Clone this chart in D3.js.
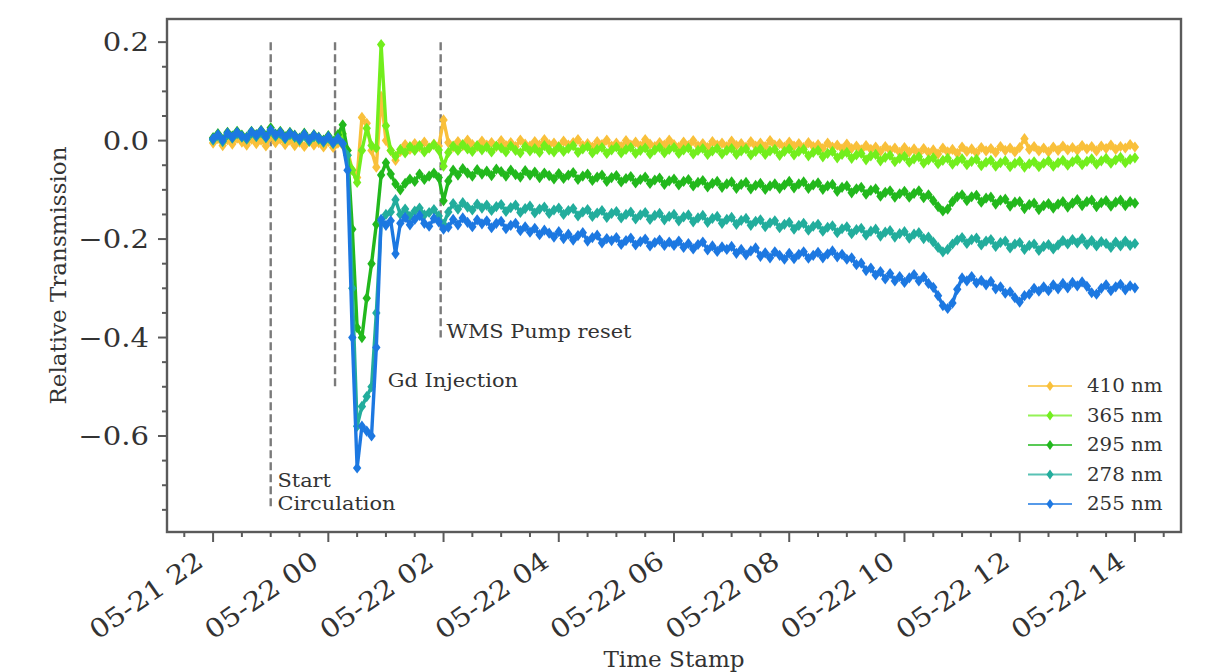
<!DOCTYPE html>
<html><head><meta charset="utf-8">
<script src="https://cdn.jsdelivr.net/npm/d3@7"></script>
<style>
body{margin:0;background:#fff}
svg{display:block}
text{font-family:"DejaVu Serif",serif;fill:#333}
</style>
</head><body>
<svg id="chart" width="1205" height="672"></svg>
<script>
// ---------- data ----------
const seriesNames = ["410 nm", "365 nm", "295 nm", "278 nm", "255 nm"];
const seriesColors = ["#f9c03a", "#72ee1e", "#22b81e", "#22ad9c", "#1e78e1"];
const startTime = new Date(2023, 4, 21, 22, 0);
const stepMinutes = 5;

const s410 = [-0.005,0.004,-0.010,0.002,-0.007,0.005,-0.003,-0.009,0.003,-0.006,0.001,-0.011,
0.008,-0.004,0.003,-0.008,0.001,-0.010,-0.003,-0.012,-0.001,-0.009,-0.004,-0.013,
-0.002,-0.014,-0.005,-0.009,
-0.020,-0.060,-0.075,0.047,0.035,-0.020,-0.054,0.090,0.000,-0.020,-0.040,-0.022,
-0.008,-0.018,-0.006,-0.013,-0.003,-0.015,-0.007,-0.011,
0.042,
-0.004,-0.013,-0.002,-0.010,0.001,-0.008,-0.012,-0.001,-0.009,-0.004,-0.012,
0.000,-0.010,-0.004,-0.012,0.001,-0.007,-0.011,-0.002,-0.009,0.002,-0.008,-0.005,
-0.012,-0.001,-0.009,-0.004,0.002,-0.010,-0.006,-0.013,-0.002,-0.008,0.001,-0.011,
-0.005,-0.012,0.000,-0.009,-0.003,-0.011,0.002,-0.007,-0.012,-0.004,-0.009,0.001,
-0.008,-0.013,-0.003,-0.010,0.000,-0.011,-0.006,-0.014,-0.002,-0.009,-0.005,-0.012,
-0.001,-0.010,-0.006,-0.013,-0.002,-0.011,-0.005,-0.012,0.000,-0.009,-0.006,-0.013,
-0.003,-0.011,-0.006,-0.014,-0.004,-0.012,-0.008,-0.016,-0.005,-0.013,-0.009,-0.017,
-0.007,-0.016,-0.011,-0.019,-0.010,-0.018,-0.013,-0.022,-0.012,-0.020,-0.015,-0.024,
-0.014,-0.023,-0.017,-0.026,-0.016,-0.024,-0.019,-0.027,-0.015,-0.023,-0.018,-0.026,
-0.013,-0.022,-0.017,-0.025,-0.014,-0.021,-0.016,-0.024,-0.012,-0.020,-0.015,-0.023,
-0.014,0.004,-0.018,-0.012,-0.021,-0.015,-0.023,-0.013,-0.020,-0.011,-0.019,-0.014,
-0.020,-0.010,-0.017,-0.012,-0.021,-0.011,-0.016,-0.009,-0.018,-0.012,-0.015,-0.008,
-0.013];

const s365 = [0.003,0.011,-0.001,0.013,0.006,0.015,0.008,0.004,0.016,0.009,0.017,0.006,
0.021,0.009,0.015,0.004,0.013,0.007,0.001,0.011,-0.001,0.008,0.003,-0.003,
0.006,-0.005,0.007,0.014,
-0.030,-0.060,-0.085,-0.020,0.025,-0.010,-0.015,0.195,0.030,-0.020,-0.032,-0.018,
-0.025,-0.012,-0.020,-0.010,-0.023,-0.015,-0.008,-0.019,
-0.052,
-0.024,-0.011,-0.020,-0.008,-0.017,-0.022,-0.010,-0.019,-0.013,-0.023,-0.011,
-0.015,-0.023,-0.011,-0.020,-0.025,-0.012,-0.021,-0.016,-0.024,-0.010,-0.019,-0.023,
-0.013,-0.022,-0.016,-0.010,-0.024,-0.017,-0.012,-0.025,-0.018,-0.014,-0.026,-0.019,
-0.013,-0.025,-0.018,-0.014,-0.026,-0.020,-0.015,-0.027,-0.019,-0.014,-0.025,-0.018,
-0.014,-0.026,-0.019,-0.015,-0.027,-0.020,-0.016,-0.028,-0.021,-0.016,-0.027,-0.020,
-0.016,-0.028,-0.021,-0.017,-0.029,-0.022,-0.017,-0.028,-0.021,-0.018,-0.030,-0.022,
-0.017,-0.029,-0.022,-0.018,-0.031,-0.024,-0.020,-0.033,-0.026,-0.022,-0.035,-0.028,
-0.024,-0.036,-0.029,-0.026,-0.039,-0.031,-0.028,-0.041,-0.034,-0.030,-0.043,-0.036,
-0.032,-0.044,-0.037,-0.033,-0.046,-0.039,-0.035,-0.047,-0.040,-0.036,-0.048,-0.041,
-0.037,-0.049,-0.042,-0.038,-0.051,-0.044,-0.040,-0.052,-0.045,-0.041,-0.053,-0.046,
-0.042,-0.054,-0.047,-0.043,-0.053,-0.046,-0.041,-0.052,-0.045,-0.040,-0.050,-0.043,
-0.038,-0.049,-0.042,-0.037,-0.048,-0.041,-0.036,-0.046,-0.039,-0.034,-0.045,-0.038,
-0.035];

const s295 = [0.006,0.014,0.002,0.017,0.009,0.019,0.011,0.007,0.019,0.012,0.021,0.010,
0.026,0.013,0.019,0.008,0.017,0.011,0.005,0.015,0.003,0.012,0.007,0.001,
0.010,-0.001,0.012,0.032,
-0.020,-0.180,-0.380,-0.400,-0.320,-0.250,-0.170,-0.070,-0.045,-0.068,-0.088,-0.100,
-0.087,-0.078,-0.083,-0.068,-0.079,-0.072,-0.066,-0.075,
-0.122,
-0.082,-0.060,-0.070,-0.057,-0.066,-0.072,-0.059,-0.068,-0.062,-0.071,-0.058,
-0.063,-0.072,-0.060,-0.069,-0.074,-0.061,-0.070,-0.064,-0.075,-0.066,-0.071,-0.078,
-0.067,-0.077,-0.070,-0.065,-0.079,-0.072,-0.068,-0.081,-0.074,-0.070,-0.083,-0.075,
-0.071,-0.084,-0.077,-0.073,-0.086,-0.079,-0.074,-0.087,-0.080,-0.076,-0.089,-0.082,
-0.078,-0.090,-0.083,-0.079,-0.092,-0.085,-0.081,-0.094,-0.087,-0.083,-0.095,-0.088,
-0.084,-0.097,-0.089,-0.085,-0.098,-0.091,-0.087,-0.099,-0.092,-0.088,-0.097,-0.090,
-0.083,-0.096,-0.088,-0.084,-0.097,-0.090,-0.086,-0.099,-0.092,-0.089,-0.103,-0.095,
-0.092,-0.106,-0.098,-0.095,-0.109,-0.101,-0.098,-0.113,-0.105,-0.102,-0.115,-0.108,
-0.103,-0.115,-0.107,-0.102,-0.116,-0.110,-0.122,-0.134,-0.143,-0.139,-0.124,-0.114,
-0.110,-0.122,-0.114,-0.111,-0.125,-0.117,-0.115,-0.129,-0.121,-0.119,-0.133,-0.125,
-0.124,-0.138,-0.130,-0.127,-0.140,-0.132,-0.128,-0.137,-0.129,-0.124,-0.135,-0.127,
-0.120,-0.132,-0.124,-0.121,-0.134,-0.126,-0.122,-0.133,-0.125,-0.121,-0.132,-0.124,
-0.127];

const s278 = [0.001,0.010,-0.002,0.012,0.005,0.014,0.007,0.003,0.015,0.008,0.016,0.006,
0.019,0.009,0.014,0.004,0.012,0.007,0.001,0.010,-0.001,0.008,0.003,-0.003,
0.005,-0.006,0.003,-0.007,
-0.030,-0.300,-0.580,-0.540,-0.520,-0.500,-0.350,-0.165,-0.150,-0.145,-0.120,-0.150,
-0.139,-0.154,-0.143,-0.137,-0.151,-0.146,-0.140,-0.153,
-0.170,
-0.145,-0.128,-0.139,-0.126,-0.135,-0.141,-0.129,-0.137,-0.131,-0.142,-0.134,
-0.130,-0.144,-0.136,-0.131,-0.146,-0.138,-0.133,-0.147,-0.139,-0.135,-0.148,-0.141,
-0.137,-0.150,-0.142,-0.138,-0.153,-0.145,-0.140,-0.154,-0.147,-0.142,-0.156,-0.148,
-0.144,-0.157,-0.150,-0.145,-0.159,-0.151,-0.146,-0.160,-0.152,-0.148,-0.161,-0.154,
-0.150,-0.163,-0.155,-0.151,-0.165,-0.157,-0.152,-0.166,-0.158,-0.154,-0.168,-0.160,
-0.156,-0.170,-0.162,-0.158,-0.172,-0.164,-0.161,-0.175,-0.167,-0.163,-0.177,-0.170,
-0.166,-0.180,-0.172,-0.168,-0.182,-0.174,-0.170,-0.184,-0.176,-0.173,-0.187,-0.179,
-0.175,-0.189,-0.181,-0.178,-0.192,-0.184,-0.180,-0.194,-0.186,-0.183,-0.196,-0.189,
-0.185,-0.198,-0.190,-0.187,-0.199,-0.196,-0.206,-0.217,-0.226,-0.221,-0.210,-0.202,
-0.197,-0.209,-0.201,-0.198,-0.212,-0.204,-0.201,-0.215,-0.207,-0.204,-0.218,-0.210,
-0.207,-0.221,-0.213,-0.210,-0.223,-0.215,-0.211,-0.220,-0.212,-0.203,-0.210,-0.201,
-0.208,-0.199,-0.211,-0.203,-0.214,-0.205,-0.209,-0.217,-0.206,-0.214,-0.204,-0.213,
-0.209];

const s255 = [0.004,0.012,0.001,0.015,0.007,0.017,0.009,0.006,0.018,0.011,0.020,0.008,
0.022,0.012,0.017,0.006,0.015,0.010,0.004,0.013,0.002,0.011,0.006,-0.001,
0.008,-0.004,0.005,-0.006,
-0.060,-0.400,-0.665,-0.580,-0.590,-0.600,-0.420,-0.160,-0.172,-0.163,-0.230,-0.168,
-0.156,-0.171,-0.160,-0.152,-0.168,-0.174,-0.158,-0.165,
-0.180,
-0.176,-0.160,-0.171,-0.157,-0.166,-0.175,-0.161,-0.169,-0.163,-0.177,-0.168,
-0.164,-0.179,-0.172,-0.168,-0.183,-0.175,-0.186,-0.178,-0.191,-0.182,-0.188,-0.196,
-0.185,-0.199,-0.190,-0.202,-0.193,-0.187,-0.204,-0.197,-0.192,-0.208,-0.199,-0.203,
-0.197,-0.211,-0.203,-0.198,-0.212,-0.205,-0.200,-0.214,-0.207,-0.202,-0.213,-0.206,
-0.213,-0.204,-0.217,-0.209,-0.220,-0.211,-0.206,-0.222,-0.214,-0.225,-0.216,-0.221,
-0.215,-0.229,-0.221,-0.232,-0.224,-0.218,-0.235,-0.228,-0.238,-0.226,-0.233,-0.241,
-0.229,-0.240,-0.231,-0.226,-0.239,-0.233,-0.227,-0.238,-0.230,-0.224,-0.236,-0.231,
-0.241,-0.238,-0.252,-0.249,-0.264,-0.259,-0.273,-0.266,-0.281,-0.270,-0.285,-0.276,
-0.288,-0.279,-0.272,-0.285,-0.277,-0.290,-0.298,-0.315,-0.335,-0.341,-0.330,-0.302,
-0.279,-0.285,-0.276,-0.289,-0.284,-0.293,-0.286,-0.301,-0.297,-0.310,-0.307,-0.319,
-0.328,-0.315,-0.312,-0.300,-0.306,-0.297,-0.305,-0.293,-0.301,-0.290,-0.299,-0.288,
-0.295,-0.287,-0.296,-0.309,-0.312,-0.300,-0.293,-0.305,-0.297,-0.292,-0.303,-0.295,
-0.299];

const seriesValues = [s410, s365, s295, s278, s255];

const xDomain = [new Date(2023, 4, 21, 21, 12), new Date(2023, 4, 22, 14, 48)];
const yDomain = [-0.795, 0.247];
const yTickValues = [-0.6, -0.4, -0.2, 0.0, 0.2];
const xTickFormat = "%m-%d %H";
const xLabel = "Time Stamp";
const yLabel = "Relative Transmission";

const eventTimes = [new Date(2023, 4, 21, 23, 0), new Date(2023, 4, 22, 0, 7), new Date(2023, 4, 22, 1, 57)];
const eventTop = [0.2, 0.2, 0.2];
const eventBottom = [-0.75, -0.5, -0.4];
const eventLabels = [["Start", "Circulation"], ["Gd Injection"], ["WMS Pump reset"]];
const eventLabelTimes = [new Date(2023, 4, 21, 23, 7), new Date(2023, 4, 22, 1, 2), new Date(2023, 4, 22, 2, 3)];
const eventLabelValues = [-0.75, -0.5, -0.4];

// ---------- layout ----------
const M = {left: 167, right: 1181, top: 19, bottom: 532};
const svg = d3.select("#chart");
const x = d3.scaleTime().domain(xDomain).range([M.left, M.right]);
const y = d3.scaleLinear().domain(yDomain).range([M.bottom, M.top]);
const fmtTime = d3.timeFormat(xTickFormat);
const fmtY = v => d3.format(".1f")(v).replace("-", "\u2212");
const timeAt = i => d3.timeMinute.offset(startTime, i * stepMinutes);

// text helper (glyphs a little wider than DejaVu Serif, as in the reference)
function label(px, py, str, size, opts = {}) {
  const sx = opts.sx || 1.1;
  const rot = opts.rotate ? ` rotate(${opts.rotate})` : "";
  return svg.append("text")
    .attr("transform", `translate(${px},${py})${rot} scale(${sx},1)`)
    .attr("text-anchor", opts.anchor || "start")
    .attr("dy", opts.dy || null)
    .attr("font-size", size).text(str);
}

const defs = svg.append("defs");
defs.append("clipPath").attr("id", "clip")
  .append("rect").attr("x", M.left).attr("y", M.top)
  .attr("width", M.right - M.left).attr("height", M.bottom - M.top);
defs.append("filter").attr("id", "soft").attr("x", "-5%").attr("y", "-5%").attr("width", "110%").attr("height", "110%")
  .append("feGaussianBlur").attr("stdDeviation", 0.7);

const plot = svg.append("g").attr("clip-path", "url(#clip)");

// event lines
eventTimes.forEach((t, k) => {
  plot.append("line")
    .attr("x1", x(t)).attr("x2", x(t))
    .attr("y1", y(eventTop[k])).attr("y2", y(eventBottom[k]))
    .attr("stroke", "#7a7a7a").attr("stroke-width", 2.4)
    .attr("stroke-dasharray", "8,4");
});

// series
const diamond = "M0,-5.6L4.2,0L0,5.6L-4.2,0Z";
const lineGen = d3.line().x((d, i) => x(timeAt(i))).y(d => y(d));
const seriesLayer = plot.append("g").attr("filter", "url(#soft)");
seriesValues.forEach((vals, k) => {
  const g = seriesLayer.append("g");
  g.append("path").attr("d", lineGen(vals))
    .attr("fill", "none").attr("stroke", seriesColors[k])
    .attr("stroke-width", 3.4).attr("stroke-linejoin", "round").attr("stroke-linecap", "round");
  g.selectAll("path.m").data(vals).enter().append("path")
    .attr("class", "m").attr("d", diamond)
    .attr("transform", (d, i) => `translate(${x(timeAt(i))},${y(d)})`)
    .attr("fill", seriesColors[k]);
});

// event labels
eventLabels.forEach((lines, k) => {
  const tx = x(eventLabelTimes[k]);
  const base = y(eventLabelValues[k]);
  lines.forEach((s, j) => {
    label(tx, base - (lines.length - 1 - j) * 23, s, 19, {sx: 1.1});
  });
});

// frame
svg.append("rect").attr("x", M.left).attr("y", M.top)
  .attr("width", M.right - M.left).attr("height", M.bottom - M.top)
  .attr("fill", "none").attr("stroke", "#5a5a5a").attr("stroke-width", 2.4);

// y axis ticks
const yMinor = d3.range(-0.75, 0.2001, 0.05).filter(v => !yTickValues.some(t => Math.abs(t - v) < 1e-6));
yMinor.forEach(v => {
  svg.append("line").attr("x1", M.left - 5).attr("x2", M.left)
    .attr("y1", y(v)).attr("y2", y(v)).attr("stroke", "#5a5a5a").attr("stroke-width", 2);
});
yTickValues.forEach(v => {
  svg.append("line").attr("x1", M.left - 9).attr("x2", M.left)
    .attr("y1", y(v)).attr("y2", y(v)).attr("stroke", "#5a5a5a").attr("stroke-width", 2);
  label(M.left - 18, y(v), fmtY(v), 26, {sx: 1.12, anchor: "end", dy: "0.36em"});
});

// x axis ticks
const xMajor = d3.timeHour.every(2).range(new Date(2023, 4, 21, 22, 0), new Date(2023, 4, 22, 14, 1));
const xMinor = d3.timeMinute.every(30).range(new Date(2023, 4, 21, 21, 30), new Date(2023, 4, 22, 14, 31))
  .filter(t => t.getMinutes() !== 0 || t.getHours() % 2 !== 0);
xMinor.forEach(t => {
  svg.append("line").attr("x1", x(t)).attr("x2", x(t))
    .attr("y1", M.bottom).attr("y2", M.bottom + 5).attr("stroke", "#5a5a5a").attr("stroke-width", 2);
});
xMajor.forEach(t => {
  svg.append("line").attr("x1", x(t)).attr("x2", x(t))
    .attr("y1", M.bottom).attr("y2", M.bottom + 10).attr("stroke", "#5a5a5a").attr("stroke-width", 2);
  label(x(t) - 8, M.bottom + 33, fmtTime(t), 26, {sx: 1.13, anchor: "end", rotate: -35});
});

// axis labels
label((M.left + M.right) / 2, 667, xLabel, 22, {sx: 1.05, anchor: "middle"});
svg.append("text").attr("transform", `translate(66,${(M.top + M.bottom) / 2}) rotate(-90)`)
  .attr("text-anchor", "middle").attr("font-size", 23).text(yLabel);

// legend
const legY0 = 386, legDy = 29.5;
const legDiamond = "M0,-5L3.6,0L0,5L-3.6,0Z";
seriesNames.forEach((n, k) => {
  const ly = legY0 + k * legDy;
  svg.append("line").attr("x1", 1028).attr("x2", 1072).attr("y1", ly).attr("y2", ly)
    .attr("stroke", seriesColors[k]).attr("stroke-width", 2).attr("stroke-opacity", 0.75);
  svg.append("path").attr("d", legDiamond).attr("transform", `translate(1050,${ly})`)
    .attr("fill", seriesColors[k]);
  label(1087, ly, n, 18, {sx: 1.1, dy: "0.36em"});
});
</script>
</body></html>
